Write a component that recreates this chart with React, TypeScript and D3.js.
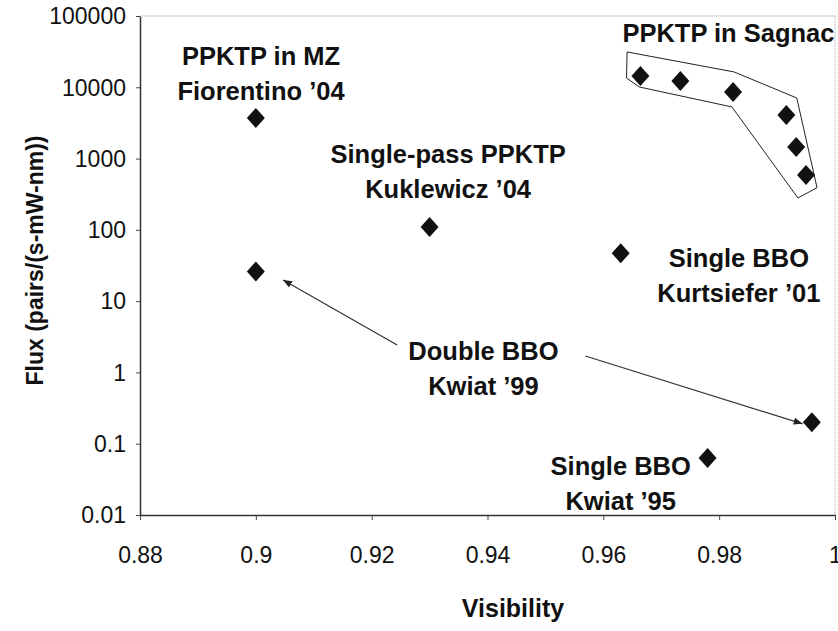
import { useEffect, useRef } from 'react'
import * as d3 from 'd3'

// tick values
const xTicks = [0.88, 0.9, 0.92, 0.94, 0.96, 0.98, 1]
const yTicks = [0.01, 0.1, 1, 10, 100, 1000, 10000, 100000]

// measured points (visibility, flux)
const visibility = [0.9, 0.9, 0.93, 0.963, 0.978, 0.996]
const flux = [3700, 26, 110, 47, 0.063, 0.2]

// PPKTP in Sagnac series
const sagnacVis = [0.9664, 0.9733, 0.9824, 0.9916, 0.9933, 0.995]
const sagnacFlux = [14400, 12300, 8600, 4100, 1450, 590]

// outline drawn around the Sagnac points
const hullVis = [0.9641, 0.9826, 0.9934, 0.9969, 0.9936, 0.9822, 0.9662, 0.964]
const hullFlux = [31300, 16400, 7070, 390, 280, 5300, 10100, 13500]

// annotations: first line anchor in data units
const labelLines = [
  ['PPKTP in MZ', 'Fiorentino \u201904'],
  ['PPKTP in Sagnac'],
  ['Single-pass PPKTP', 'Kuklewicz \u201904'],
  ['Single BBO', 'Kurtsiefer \u201901'],
  ['Double BBO', 'Kwiat \u201999'],
  ['Single BBO', 'Kwiat \u201995'],
]
const labelVis = [0.9009, 0.9816, 0.9332, 0.9834, 0.9393, 0.963]
const labelFlux = [20560, 43200, 867, 30.2, 1.5, 0.0366]

// arrows from "Double BBO" label: [from, to]
const arrowFromVis = [0.9244, 0.9569]
const arrowFromFlux = [2.43, 1.7]
const arrowToVis = [0.9047, 0.9944]
const arrowToFlux = [19.8, 0.19]

const App = () => {
  const ref = useRef<SVGSVGElement>(null)

  useEffect(() => {
    const svg = d3.select(ref.current)
    svg.selectAll('*').remove()
    const margin = { top: 16, right: 3, bottom: 116, left: 140 }
    const width = 838
    const height = 631
    const innerWidth = width - margin.left - margin.right
    const innerHeight = height - margin.top - margin.bottom

    const x = d3.scaleLinear().domain([0.88, 1]).range([0, innerWidth])
    const y = d3.scaleLog().domain([0.01, 100000]).range([innerHeight, 0])

    const defs = svg.append('defs')
    defs.append('marker')
      .attr('id', 'head')
      .attr('viewBox', '0 0 10 10')
      .attr('refX', 10).attr('refY', 5)
      .attr('markerWidth', 9).attr('markerHeight', 9)
      .attr('markerUnits', 'userSpaceOnUse')
      .attr('orient', 'auto')
      .append('path').attr('d', 'M0,1 L10,5 L0,9 Z').attr('fill', '#222')

    const g = svg.append('g').attr('transform', `translate(${margin.left},${margin.top})`)

    // dotted frame top / right
    g.append('line').attr('x1', 0).attr('x2', innerWidth).attr('y1', 0).attr('y2', 0)
      .attr('stroke', '#999').attr('stroke-dasharray', '1,1')
    g.append('line').attr('x1', innerWidth).attr('x2', innerWidth).attr('y1', 0).attr('y2', innerHeight)
      .attr('stroke', '#aaa').attr('stroke-dasharray', '1,1')

    const tickFont = '"Liberation Sans Narrow", "Arial Narrow", sans-serif'

    const xAxisG = g.append('g').attr('transform', `translate(0,${innerHeight})`)
      .call(d3.axisBottom(x).tickValues(xTicks).tickFormat(d => String(d)).tickSize(5).tickSizeOuter(0))
    xAxisG.selectAll('text').attr('y', 48).attr('dy', 0)
      .style('font-family', tickFont).style('font-size', '23px').attr('fill', '#111')

    const yAxisG = g.append('g')
      .call(d3.axisLeft(y).tickValues(yTicks).tickFormat(d => String(d)).tickSize(4).tickSizeOuter(0))
    yAxisG.selectAll('text').attr('x', -14).attr('dy', '0.34em')
      .style('font-family', tickFont).style('font-size', '23px').attr('fill', '#111')

    g.selectAll('.domain').attr('stroke', '#333').attr('stroke-width', 1.5)
    g.selectAll('.tick line').attr('stroke', '#444')

    // outline around Sagnac points
    const hull = d3.line<number>().x(i => x(hullVis[i])).y(i => y(hullFlux[i]))
    g.append('path').attr('d', hull(d3.range(hullVis.length)) + 'Z')
      .attr('fill', 'none').attr('stroke', '#222').attr('stroke-width', 1)

    // diamonds
    const diamond = 'M0,-10 L9,0 L0,10 L-9,0 Z'
    const pts = d3.range(visibility.length).map(i => [visibility[i], flux[i]])
      .concat(d3.range(sagnacVis.length).map(i => [sagnacVis[i], sagnacFlux[i]]))
    g.selectAll('path.pt').data(pts).enter().append('path')
      .attr('class', 'pt')
      .attr('d', diamond)
      .attr('transform', d => `translate(${x(d[0])},${y(d[1])})`)
      .attr('fill', '#111')

    // arrows
    g.selectAll('line.arrow').data(d3.range(arrowFromVis.length)).enter().append('line')
      .attr('class', 'arrow')
      .attr('x1', i => x(arrowFromVis[i])).attr('y1', i => y(arrowFromFlux[i]))
      .attr('x2', i => x(arrowToVis[i])).attr('y2', i => y(arrowToFlux[i]))
      .attr('stroke', '#333').attr('stroke-width', 1.2)
      .attr('marker-end', 'url(#head)')

    // annotation labels
    const labelFont = '"Liberation Sans", Arial, sans-serif'
    labelLines.forEach((lines, i) => {
      const t = g.append('text')
        .attr('text-anchor', 'middle')
        .style('font-family', labelFont).style('font-weight', 'bold').style('font-size', '25.5px')
        .attr('fill', '#111')
      lines.forEach((s, j) => {
        t.append('tspan').attr('x', x(labelVis[i])).attr('y', y(labelFlux[i]) + j * 35).text(s)
      })
    })

    // axis titles
    svg.append('text').text('Visibility')
      .attr('x', 513).attr('y', 617).attr('text-anchor', 'middle')
      .style('font-family', labelFont).style('font-weight', 'bold').style('font-size', '25px').attr('fill', '#111')
    svg.append('text').text('Flux (pairs/(s-mW-nm))')
      .attr('transform', `translate(43,${margin.top + innerHeight / 2 - 5}) rotate(-90)`)
      .attr('text-anchor', 'middle')
      .style('font-family', labelFont).style('font-weight', 'bold').style('font-size', '23px').attr('fill', '#111')
  }, [])

  return (
    <div>
      <svg ref={ref} width={838} height={631}
        style={{ position: 'absolute', left: 0, top: 0, background: '#fff' }} />
    </div>
  )
}

export default App
